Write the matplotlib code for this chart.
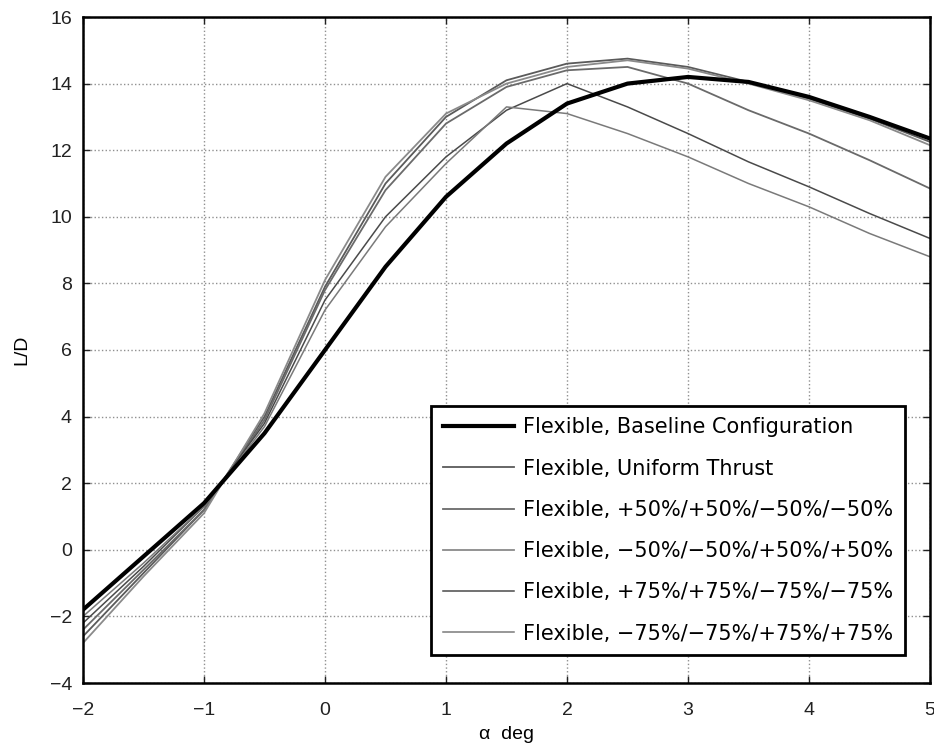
import matplotlib
matplotlib.use("Agg")
import matplotlib.pyplot as plt

plt.rcParams['font.family'] = ['Liberation Sans', 'DejaVu Sans']

alpha = [-2, -1.5, -1, -0.5, 0, 0.5, 1, 1.5, 2, 2.5, 3, 3.5, 4, 4.5, 5]

baseline = [-1.8, -0.2, 1.4, 3.5, 6.0, 8.5, 10.6, 12.2, 13.4, 14.0, 14.2, 14.05, 13.6, 13.0, 12.35]
uniform = [-2.6, -0.7, 1.2, 4.0, 7.9, 11.0, 13.0, 14.1, 14.6, 14.75, 14.5, 14.05, 13.55, 12.95, 12.25]
p50 = [-2.4, -0.6, 1.2, 3.9, 7.8, 10.8, 12.8, 13.9, 14.4, 14.5, 14.0, 13.2, 12.5, 11.7, 10.85]
m50 = [-2.8, -0.8, 1.1, 4.1, 8.1, 11.2, 13.1, 14.0, 14.5, 14.7, 14.45, 14.0, 13.5, 12.9, 12.15]
p75 = [-2.2, -0.5, 1.3, 3.8, 7.5, 10.0, 11.8, 13.2, 14.0, 13.3, 12.5, 11.65, 10.9, 10.1, 9.35]
m75 = [-2.0, -0.4, 1.3, 3.7, 7.2, 9.7, 11.6, 13.3, 13.1, 12.5, 11.8, 11.0, 10.3, 9.5, 8.8]

labels = [
    "Flexible, Baseline Configuration",
    "Flexible, Uniform Thrust",
    "Flexible, +50%/+50%/\u221250%/\u221250%",
    "Flexible, \u221250%/\u221250%/+50%/+50%",
    "Flexible, +75%/+75%/\u221275%/\u221275%",
    "Flexible, \u221275%/\u221275%/+75%/+75%",
]

xticks = [-2, -1, 0, 1, 2, 3, 4, 5]
yticks = [-4, -2, 0, 2, 4, 6, 8, 10, 12, 14, 16]

fig = plt.figure(figsize=(9.34, 7.51), dpi=100)
ax = fig.add_axes([83/934, 1 - 683/751, (930 - 83)/934, (683 - 17)/751])

series = [baseline, uniform, p50, m50, p75, m75]
styles = [
    dict(color='black', lw=3.0),
    dict(color='#5a5a5a', lw=1.3),
    dict(color='#6a6a6a', lw=1.3),
    dict(color='#8a8a8a', lw=1.3),
    dict(color='#4a4a4a', lw=1.1),
    dict(color='#7a7a7a', lw=1.1),
]
order = [1, 2, 3, 4, 5, 0]
handles = {}
for i in order:
    h, = ax.plot(alpha, series[i], label=labels[i], zorder=3 if i == 0 else 2, **styles[i])
    handles[i] = h

ax.set_xlim(-2, 5)
ax.set_ylim(-4, 16)
ax.set_xticks(xticks)
ax.set_yticks(yticks)
ax.set_xticklabels(["\u22122", "\u22121", "0", "1", "2", "3", "4", "5"])
ax.set_yticklabels(["\u22124", "\u22122", "0", "2", "4", "6", "8", "10", "12", "14", "16"])
ax.tick_params(direction='in', labelsize=14, length=5, width=1, top=True, right=True, colors='#222222')
ax.tick_params(axis='x', pad=14)
ax.tick_params(axis='y', pad=8)
ax.grid(True, linestyle=':', color='#909090', linewidth=1.0)
for s in ax.spines.values():
    s.set_linewidth(1.8)
    s.set_color('black')

ax.set_xlabel("\u03b1  deg", fontsize=14, labelpad=5)
ax.set_ylabel("L/D", fontsize=14, labelpad=14)

leg = ax.legend([handles[i] for i in range(6)], labels, loc='lower right',
                bbox_to_anchor=(0.970, 0.042), borderaxespad=0,
                prop={'family': 'DejaVu Sans', 'size': 15},
                frameon=True, fancybox=False, edgecolor='black', framealpha=1,
                handlelength=3.4, handletextpad=0.45, labelspacing=1.02,
                borderpad=0.55)
leg.get_frame().set_linewidth(2.0)

fig.savefig("out.png", dpi=100)
